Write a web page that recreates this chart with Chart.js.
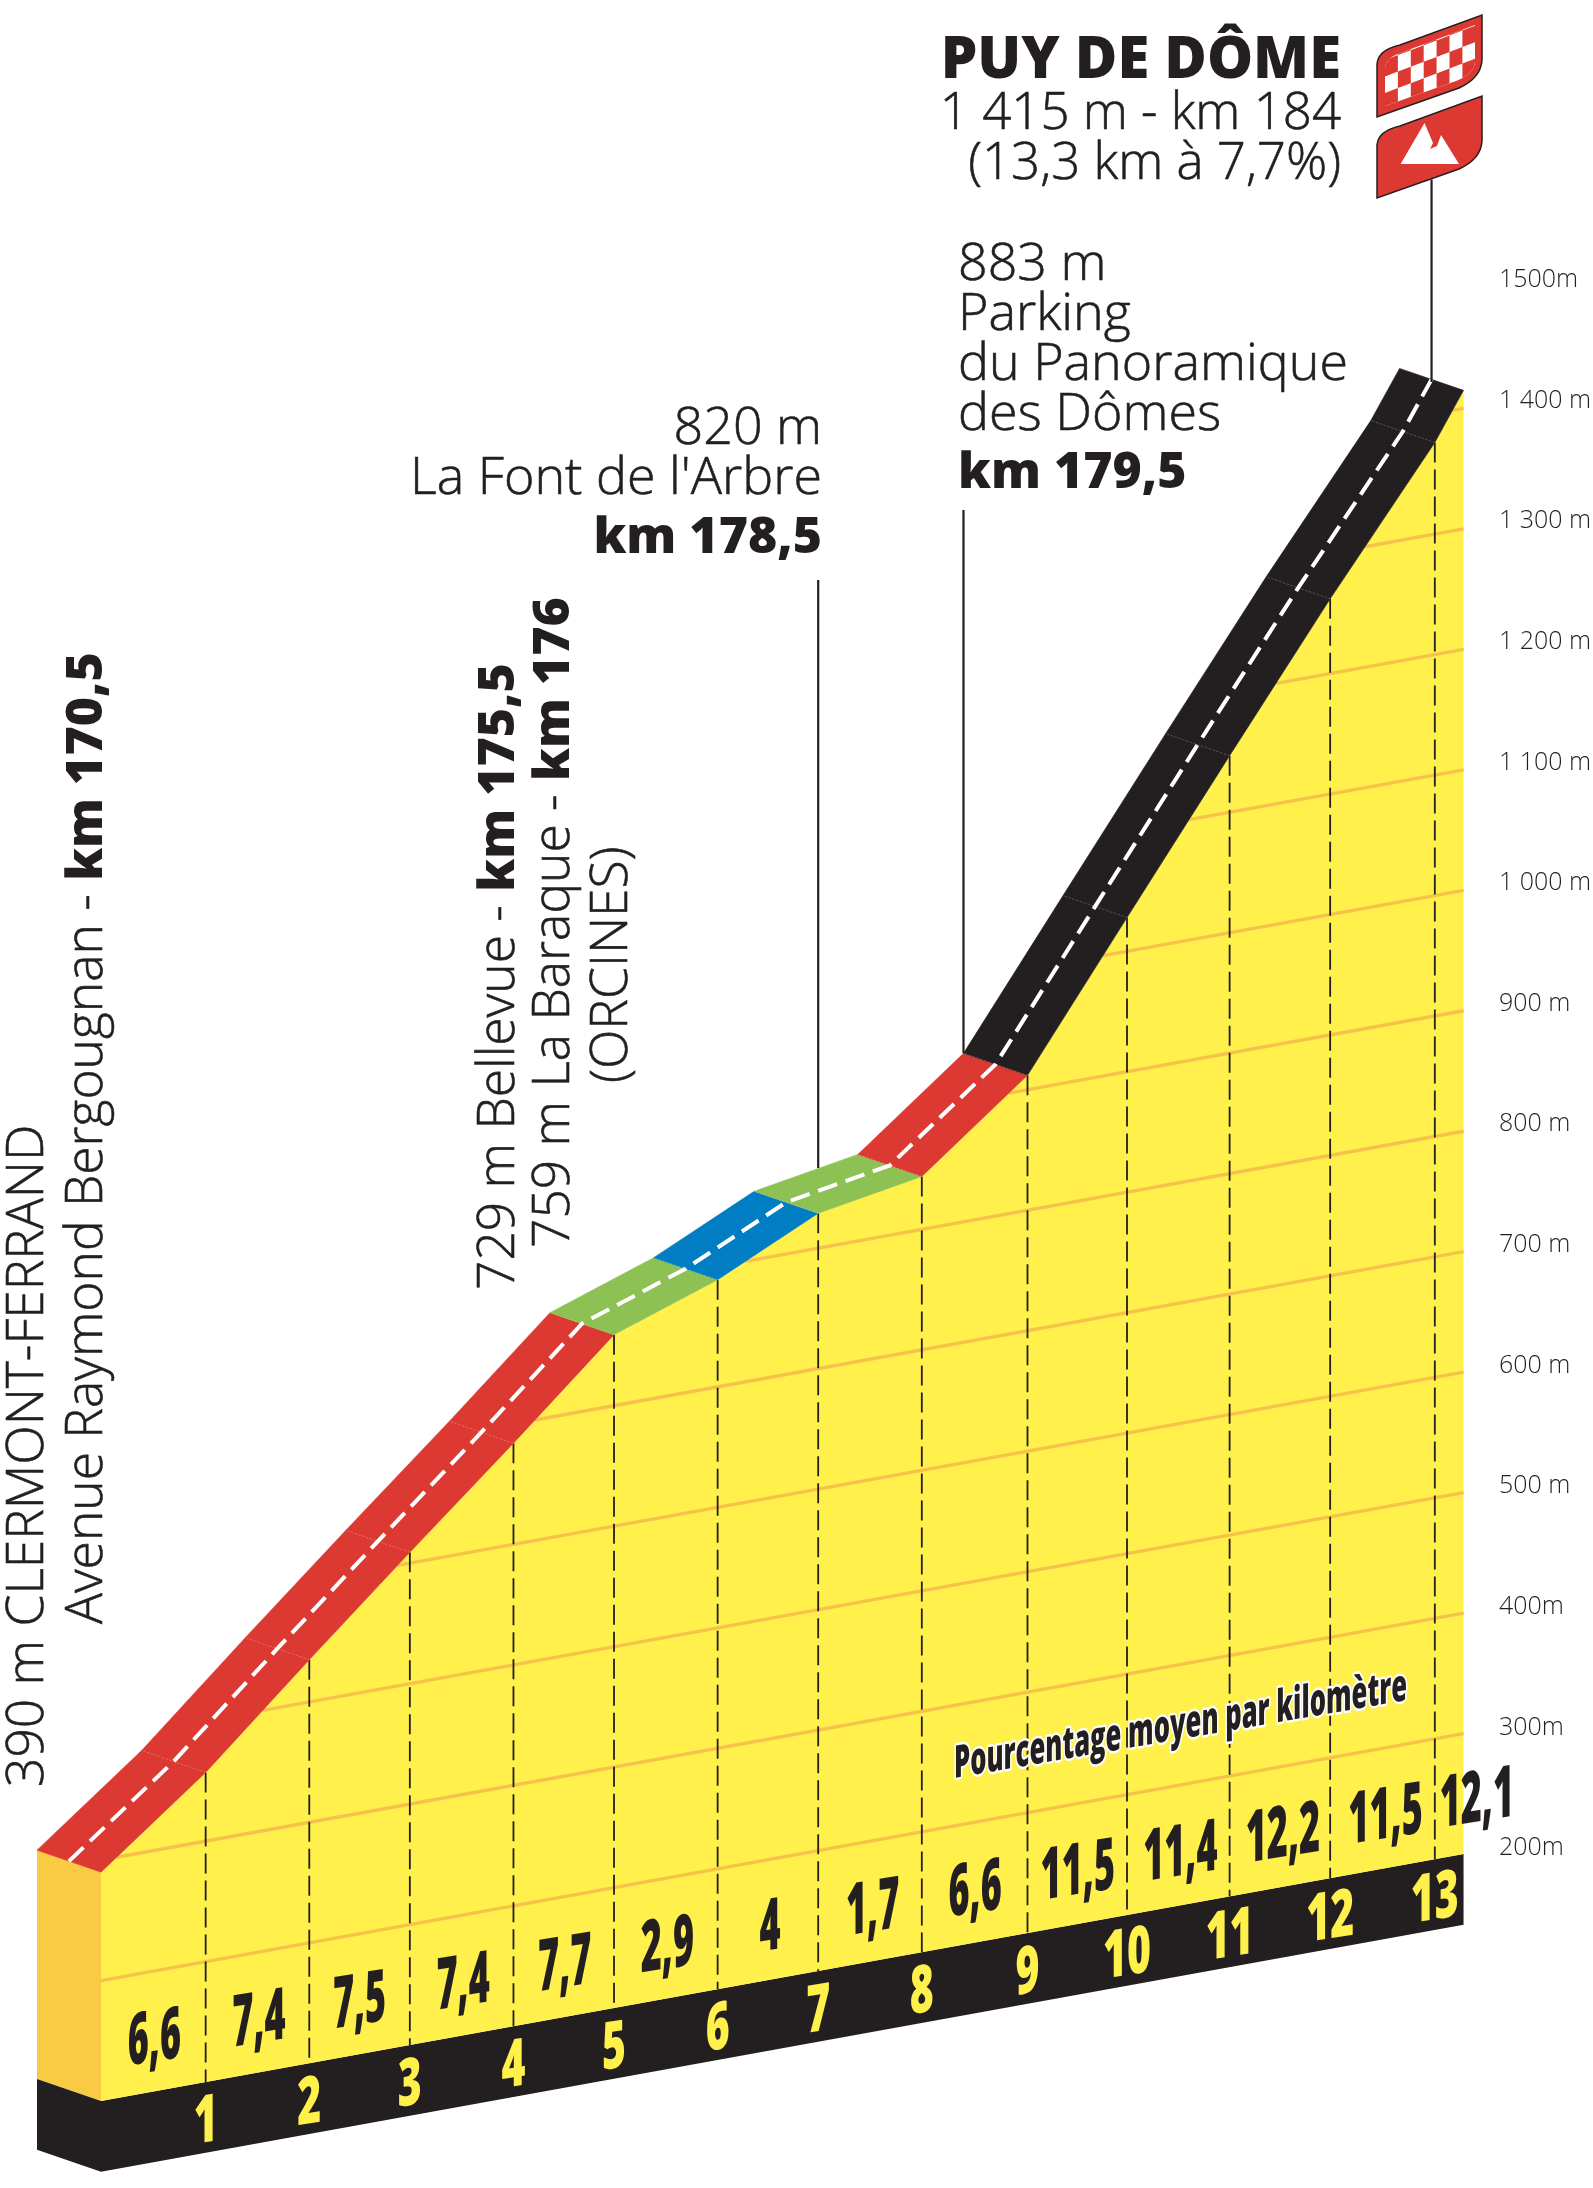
<!DOCTYPE html>
<html><head><meta charset="utf-8">
<style>html,body{margin:0;padding:0;background:#fff}canvas{display:block}</style>
<script src="https://cdn.jsdelivr.net/npm/chart.js@4"></script>
</head><body><canvas id="c" width="1593" height="2188"></canvas>
<script>
const kmMarks=[0,1.02,2.03,3.01,4.02,5,6.01,6.99,8,9.03,10,11,11.98,13,13.28];
const altitudes=[390,457,535,609,684,759,789,829,844,912,1028,1147,1262,1376,1415];
const roadColors=['#DD3933','#DD3933','#DD3933','#DD3933','#DD3933','#8DC154','#007DC3','#8DC154','#DD3933','#231F20','#231F20','#231F20','#231F20','#231F20'];
const pctLabels=['6,6','7,4','7,5','7,4','7,7','2,9','4','1,7','6,6','11,5','11,4','12,2','11,5','12,1'];
const pctKm=[0.52,1.54,2.52,3.53,4.52,5.52,6.52,7.52,8.52,9.52,10.52,11.52,12.52,13.41];
const kmLabels=['1','2','3','4','5','6','7','8','9','10','11','12','13'];
const gridLevels=[300,400,500,600,700,800,900,1000,1100,1200,1300,1400];
const axisValues=[200,300,400,500,600,700,800,900,1000,1100,1200,1300,1400,1500];
const axisLabels=['200m','300m','400m','500 m','600 m','700 m','800 m','900 m','1 000 m','1 100 m','1 200 m','1 300 m','1 400 m','1500m'];

const INK='#231F20',YEL='#FFF04B',GRID='#F7C24A',SIDE='#F9CB45';
const TILT=15.44, DK=-0.6238, DV=18.26, BASE=200, PLINTH=58.7;
const front=(k,a)=>({x:k,y:a+TILT*k});
const back=(k,a)=>({x:k+DK,y:a+TILT*k+DV});
const mid=(k,a)=>({x:k+DK/2,y:a+TILT*k+DV/2});
const last=kmMarks.length-1;
const ds=[];
function add(pts,o){ds.push({data:pts,showLine:true,pointRadius:0,tension:0,order:-ds.length,
  borderColor:o.line||'transparent',borderWidth:o.lw||0.01,borderDash:o.dash||[],
  backgroundColor:o.fill||'transparent',fill:o.fill?'shape':false,borderCapStyle:'butt'});}
const K0=kmMarks[0],KE=kmMarks[last];
add([back(K0,BASE),front(K0,BASE),front(K0,altitudes[0]),back(K0,altitudes[0]),back(K0,BASE)],{fill:SIDE});
add([back(K0,BASE),front(K0,BASE),front(K0,BASE-PLINTH),back(K0,BASE-PLINTH),back(K0,BASE)],{fill:INK});
add([front(K0,BASE),front(KE,BASE),front(KE,BASE-PLINTH),front(K0,BASE-PLINTH),front(K0,BASE)],{fill:INK});
add([front(K0,BASE),...kmMarks.map((k,i)=>front(k,altitudes[i])),front(KE,BASE),front(K0,BASE)],{fill:YEL});
function crossing(g){
  if(g<=altitudes[0])return K0;
  for(let i=1;i<=last;i++)if(altitudes[i]>=g){
    return kmMarks[i-1]+(g-altitudes[i-1])/(altitudes[i]-altitudes[i-1])*(kmMarks[i]-kmMarks[i-1]);}
  return KE;
}
gridLevels.forEach(g=>add([front(crossing(g),g),front(KE,g)],{line:GRID,lw:3.4}));
for(let i=1;i<last;i++)add([front(kmMarks[i],altitudes[i]),front(kmMarks[i],BASE)],{line:INK,lw:1.8,dash:[20,7]});
roadColors.forEach((c,i)=>{
  const a=i,b=i+1;
  add([front(kmMarks[a],altitudes[a]),front(kmMarks[b],altitudes[b]),back(kmMarks[b],altitudes[b]),back(kmMarks[a],altitudes[a]),front(kmMarks[a],altitudes[a])],{fill:c,line:c,lw:0.6});
});
for(let i=1;i<last;i++){
  add([front(kmMarks[i],altitudes[i]),back(kmMarks[i],altitudes[i])],{line:'rgba(255,255,255,0.3)',lw:0.7,dash:[2,2]});
}
add(kmMarks.map((k,i)=>mid(k,altitudes[i])),{line:'#fff',lw:4,dash:[20,9]});
// leader lines, in tilted metres
const leader=(k,v0,v1)=>add([{x:k,y:v0},{x:k,y:v1}],{line:INK,lw:2.2});
leader(6.99,974.5,1462.7);
leader(9.03+DK,1070,1520.8);
leader(KE+DK/2,1627,1795);

function skew(ctx,t,x,y,font,sx,slope,fill,stroke,sw,align){
  ctx.save();ctx.transform(sx,-slope*sx,0,1,x,y);ctx.font=font;ctx.textAlign=align||'center';ctx.textBaseline='alphabetic';
  if(stroke){ctx.strokeStyle=stroke;ctx.lineWidth=sw;ctx.lineJoin='round';ctx.strokeText(t,0,0);}
  ctx.fillStyle=fill;ctx.fillText(t,0,0);ctx.restore();
}
const L='300 52px "Open Sans"',LT='300 51px "Open Sans"',LV='300 51.5px "Open Sans"',EB='800 50px "Open Sans"';
function put(ctx,t,x,y,f){ctx.font=f;ctx.fillStyle=INK;ctx.fillText(t,x,y);
  if(f!==EB&&f.startsWith('300')){ctx.strokeStyle=INK;ctx.lineWidth=0.6;ctx.strokeText(t,x,y);}}
function txt(ctx,t,x,y,font,align){ctx.textAlign=align||'left';ctx.textBaseline='alphabetic';put(ctx,t,x,y,font);}
function vert(ctx,parts,x,y){ctx.save();ctx.translate(x,y);ctx.rotate(-Math.PI/2);ctx.textAlign='left';ctx.textBaseline='alphabetic';let p=0;
  parts.forEach(([t,f])=>{put(ctx,t,p,0,f);ctx.font=f;p+=ctx.measureText(t).width;});ctx.restore();}
function sign(ctx,dy){
  const p=new Path2D();
  p.moveTo(1377,117+dy);p.lineTo(1377,64+dy);p.quadraticCurveTo(1378,50+dy,1400,45+dy);
  p.lineTo(1482,15+dy);p.lineTo(1482,60+dy);p.quadraticCurveTo(1481,78+dy,1459,88+dy);p.closePath();
  ctx.fillStyle='#DD3933';ctx.fill(p);ctx.strokeStyle=INK;ctx.lineWidth=1.5;ctx.stroke(p);
}
const notes={id:'notes',afterDatasetsDraw(ch){
  const c=ch.ctx,X=ch.scales.x,Y=ch.scales.y;
  const px=k=>X.getPixelForValue(k),py=(k,a)=>Y.getPixelForValue(a+TILT*k);
  const SL=(TILT*(Y.height/(Y.max-Y.min)))/(X.width/(X.max-X.min));
  pctLabels.forEach((t,i)=>{const k=pctKm[i];skew(c,t,px(k),py(k,BASE)-30,'800 72px "Open Sans"',0.5,0.16,INK);});
  kmLabels.forEach((t,i)=>{const k=kmMarks[i+1];skew(c,t,px(k),py(k,BASE)+60,'800 66px "Open Sans"',0.62,0.16,YEL);});
  c.save();c.font='800 45px "Open Sans"';const w=c.measureText('Pourcentage moyen par kilomètre').width;c.restore();
  skew(c,'Pourcentage moyen par kilomètre',954,1778,'800 45px "Open Sans"',453/w,SL*0.95,INK,'#fff',5,'left');
  txt(c,'PUY DE DÔME',1341,77.7,'800 58px "Open Sans"','right');
  txt(c,'1 415 m - km 184',1341,128.7,LT,'right');
  txt(c,'(13,3 km à 7,7%)',1341,178.7,LT,'right');
  txt(c,'883 m',958,280,L);txt(c,'Parking',958,330,L);txt(c,'du Panoramique',958,380,L);txt(c,'des Dômes',958,430,L);
  txt(c,'km 179,5',958,488,EB);
  txt(c,'820 m',822,443.5,L,'right');txt(c,"La Font de l'Arbre",822,494,L,'right');txt(c,'km 178,5',822,552.7,EB,'right');
  vert(c,[['390 m CLERMONT-FERRAND',LV]],43,1787);
  vert(c,[['Avenue Raymond Bergougnan - ',LV],['km 170,5',EB]],102,1624);
  vert(c,[['729 m Bellevue - ',LV],['km 175,5',EB]],514,1290);
  vert(c,[['759 m La Baraque - ',LV],['km 176',EB]],568.5,1248);
  vert(c,[['(ORCINES)',LV]],627,1083);
  sign(c,0);sign(c,81);
  c.save();
  const inner=new Path2D();
  inner.moveTo(1385,106);inner.lineTo(1385,68);inner.quadraticCurveTo(1386,57,1403,52);inner.lineTo(1475,25);inner.lineTo(1475,62);inner.quadraticCurveTo(1474,74,1456,81);inner.closePath();
  c.clip(inner);c.fillStyle='#fff';c.fillRect(1370,10,120,110);
  c.fillStyle='#DD3933';
  const cw=12.9,ch2=16.5,sl=-0.38;
  for(let i=0;i<9;i++)for(let j=-1;j<9;j++){ if((i+j)%2) continue;
    const x0=1385+i*cw,y0=60+j*ch2+i*cw*sl;
    c.beginPath();c.moveTo(x0,y0);c.lineTo(x0+cw,y0+cw*sl);c.lineTo(x0+cw,y0+cw*sl+ch2);c.lineTo(x0,y0+ch2);c.closePath();c.fill();}
  c.restore();
  c.fillStyle='#fff';
  c.beginPath();c.moveTo(1424.5,123);c.lineTo(1433,143);c.lineTo(1430,149);c.lineTo(1437,146);c.lineTo(1441,135);c.lineTo(1459,164);c.lineTo(1400.6,164);c.closePath();c.fill();
}};
new Chart(document.getElementById('c'),{type:'scatter',data:{datasets:ds},plugins:[notes],options:{
  responsive:false,animation:false,devicePixelRatio:1,layout:{padding:0},
  plugins:{legend:{display:false},tooltip:{enabled:false},title:{display:false}},
  scales:{
    x:{type:'linear',display:false,min:-0.9844,max:13.567},
    y:{type:'linear',display:false,min:127.8,max:1944.1},
    alt:{type:'linear',position:'right',min:-81.7,max:1732,
      afterFit(s){s.width=100;s.paddingTop=0;s.paddingBottom=0;},
      afterBuildTicks(s){s.ticks=axisValues.map(v=>({value:v}));},
      border:{display:false},grid:{display:false,drawTicks:false},
      ticks:{padding:6,color:INK,autoSkip:false,maxRotation:0,font:{family:'"Open Sans"',size:25,weight:'300'},
        callback:v=>axisLabels[axisValues.indexOf(v)]}}
  }}});
</script></body></html>
